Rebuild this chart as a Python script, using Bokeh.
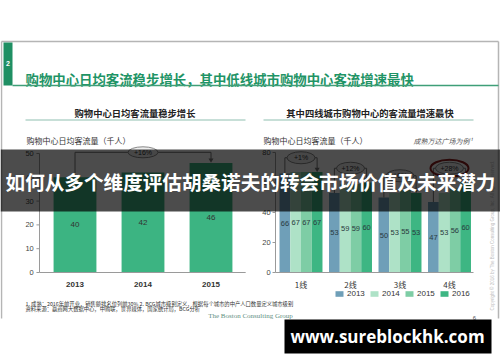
import math
from bokeh.plotting import figure
from bokeh.models import Range1d, ColumnDataSource, Legend, LegendItem
from bokeh.core.properties import value
from bokeh.embed import file_html
from bokeh.resources import INLINE

# ---------------- data ----------------
years = ["2013", "2014", "2015"]
traffic = [40, 42, 46]
left_ticks = [0, 10, 20, 30, 40, 50]
left_growth = "+16%"

tiers = ["1线", "2线", "3线", "4线"]
series_years = ["2013", "2014", "2015", "2016"]
v2013 = [66, 53, 50, 47]
v2014 = [67, 59, 53, 53]
v2015 = [67, 59, 55, 56]
v2016 = [67, 60, 53, 60]
tier_growth = ["+1%", "+12%", "+6%", "+28%"]
right_ticks = [0, 20, 40, 60, 80]

main_title = "购物中心日均客流稳步增长，其中低线城市购物中心客流增速最快"
left_title = "购物中心日均客流量稳步增长"
right_title = "其中四线城市购物中心的客流量增速最快"
y_label = "购物中心日均客流量（千人）"
right_note = "成熟万达广场为例¹"
foot1 = "1. 成熟：2016年前开业，销售额排名位列前30%  2. BCG城市级别定义，根据每个城市的中产人口数量定义城市级别"
foot2 = "资料来源：赢商网大数据中心，中购联，世界媒体，国家统计局，BCG分析"
overlay_text = "如何从多个维度评估胡桑诺夫的转会市场价值及未来潜力"
watermark = "www.sureblockhk.com"

# ---------------- style ----------------
CJK = value("Noto Sans CJK SC")
LAT = value("Liberation Sans")
GREEN = "#3cb482"
series_colors = ["#6f9fb8", "#aee2c7", "#7ecda5", "#3db683"]
AX = "#9a9a9a"
TXT = "#333333"

p = figure(width=500, height=362, x_range=Range1d(0, 500), y_range=Range1d(362, 0),
           output_backend="svg", toolbar_location=None, min_border=0,
           x_axis_location=None, y_axis_location=None, outline_line_color=None,
           background_fill_color="white", border_fill_color="white")
p.grid.visible = False

# slide frame & header
p.segment(x0=[1, 1, 498], y0=[41, 41, 41], x1=[498, 1, 498], y1=[41, 318, 318],
          line_color="#b5b5b5", line_width=1.5)
p.quad(left=[3], right=[12], top=[42], bottom=[85], fill_color="#1f8f63", line_color=None)
p.text(x=[7.5], y=[63], text=["2"], text_font=LAT, text_font_size="7px", text_font_style="bold",
       text_color="white", text_align="center", text_baseline="middle")
p.text(x=[25], y=[78], text=[main_title], text_font=CJK, text_font_size="13.4px",
       text_font_style="bold", text_color="#1f9466", text_baseline="middle")
p.segment(x0=[12], y0=[85], x1=[498], y1=[85], line_color="#3f9f78", line_width=1.5)

p.text(x=[134.5, 369.5], y=[112, 112], text=[left_title, right_title], text_font=CJK,
       text_font_size="9.3px", text_font_style="bold", text_color="#222222",
       text_align="center", text_baseline="middle")
p.segment(x0=[25, 263], y0=[119.5, 119.5], x1=[245, 473], y1=[119.5, 119.5],
          line_color="#8fbfb0", line_width=1)
p.text(x=[26, 263], y=[140, 140], text=[y_label, y_label], text_font=CJK, text_font_size="8px",
       text_color=TXT, text_baseline="middle")
p.text(x=[472], y=[140], text=[right_note], text_font=CJK, text_font_size="7px",
       text_font_style="italic", text_color="#555555", text_align="right", text_baseline="middle")

# ---------------- left chart ----------------
L = p.subplot(x_source=Range1d(0, len(years) - 1), y_source=Range1d(0, left_ticks[-1]),
              x_target=Range1d(74.5, 210.5), y_target=Range1d(272, 153))
lx = list(range(len(years)))
lsrc = ColumnDataSource(dict(x=lx, top=traffic, mid=[v / 2 for v in traffic],
                             lab=[str(v) for v in traffic], cat=years))
L.vbar(x="x", top="top", bottom=0, width=0.63, source=lsrc, fill_color=GREEN, line_color=None)
L.text(x="x", y="mid", text="lab", source=lsrc, text_font=LAT, text_font_size="8px",
       text_color=TXT, text_align="center", text_baseline="middle")
L.text(x="x", y=0, text="cat", source=lsrc, y_offset=12, text_font=LAT, text_font_size="8px",
       text_font_style="bold", text_color=TXT, text_align="center", text_baseline="middle")
lax = -0.522
L.segment(x0=[lax], y0=[0], x1=[lax], y1=[left_ticks[-1]], line_color=AX, line_width=1)
L.segment(x0=[lax], y0=[0], x1=[2.51], y1=[0], line_color=AX, line_width=1)
L.segment(x0=[lax] * len(left_ticks), y0=left_ticks, x1=[lax - 0.045] * len(left_ticks),
          y1=left_ticks, line_color=AX, line_width=1)
L.text(x=[lax - 0.085] * len(left_ticks), y=left_ticks, text=[str(t) for t in left_ticks],
       text_font=LAT, text_font_size="7.5px", text_color="#444444", text_align="right",
       text_baseline="middle")
ltop = max(traffic) + 4.5
L.line(x=[0, 0, lx[-1], lx[-1]], y=[traffic[0], ltop, ltop, traffic[-1] + 1.5],
       line_color="#777777", line_width=1)
L.scatter(x=[lx[-1]], y=[traffic[-1] + 1.3], marker="inverted_triangle", size=5,
          fill_color="#777777", line_color=None)
L.ellipse(x=[1], y=[ltop], width=30, height=11, width_units="screen", height_units="screen",
          fill_color="#eeeeee", line_color="#888888", line_width=1)
L.text(x=[1], y=[ltop], text=[left_growth], text_font=LAT, text_font_size="7px",
       text_color=TXT, text_align="center", text_baseline="middle")

# ---------------- right chart ----------------
R = p.subplot(x_source=Range1d(0, len(tiers) - 1), y_source=Range1d(0, right_ticks[-1]),
              x_target=Range1d(300.5, 449), y_target=Range1d(272, 152))
rx = list(range(len(tiers)))
bw = 0.217
series = [v2013, v2014, v2015, v2016]
bar_renderers = []
for k, (vals, col) in enumerate(zip(series, series_colors)):
    xs = [i + (k - 1.5) * bw for i in rx]
    src = ColumnDataSource(dict(x=xs, top=vals, mid=[v / 2 for v in vals],
                                lab=[str(v) for v in vals]))
    r = R.vbar(x="x", top="top", bottom=0, width=bw, source=src, fill_color=col, line_color=None)
    bar_renderers.append(r)
    R.text(x="x", y="mid", text="lab", source=src, text_font=LAT, text_font_size="7.5px",
           text_color="#2a3a40", text_align="center", text_baseline="middle")
R.text(x=rx, y=[0] * len(rx), text=tiers, y_offset=12, text_font=CJK, text_font_size="8px",
       text_color=TXT, text_align="center", text_baseline="middle")
rax = -0.515
R.segment(x0=[rax], y0=[0], x1=[rax], y1=[right_ticks[-1]], line_color=AX, line_width=1)
R.segment(x0=[rax], y0=[0], x1=[3.485], y1=[0], line_color=AX, line_width=1)
R.segment(x0=[rax] * len(right_ticks), y0=right_ticks, x1=[rax - 0.06] * len(right_ticks),
          y1=right_ticks, line_color=AX, line_width=1)
R.text(x=[rax - 0.1] * len(right_ticks), y=right_ticks, text=[str(t) for t in right_ticks],
       text_font=LAT, text_font_size="7.5px", text_color="#444444", text_align="right",
       text_baseline="middle")
for i in rx:
    gmax = max(s[i] for s in series)
    top = gmax + 9.5
    x0 = i - 1.5 * bw
    x3 = i + 1.5 * bw
    R.line(x=[x0, x0, x3, x3], y=[v2013[i], top, top, v2016[i] + 2], line_color="#777777",
           line_width=1)
    R.scatter(x=[x3], y=[v2016[i] + 1.8], marker="inverted_triangle", size=5,
              fill_color="#777777", line_color=None)
    R.ellipse(x=[i], y=[top], width=28, height=12, width_units="screen", height_units="screen",
              fill_color="#eeeeee", line_color="#888888", line_width=1)
    R.text(x=[i], y=[top], text=[tier_growth[i]], text_font=LAT, text_font_size="7px",
           text_color=TXT, text_align="center", text_baseline="middle")
# highlight on the strongest growth
R.ellipse(x=[rx[-1]], y=[max(s[-1] for s in series) + 9.5], width=38, height=17,
          width_units="screen", height_units="screen", fill_color=None,
          line_color="#8e1f1f", line_width=2)

legend = Legend(items=[LegendItem(label=y, renderers=[r]) for y, r in zip(series_years, bar_renderers)],
                orientation="horizontal", location=(334, 64), glyph_width=10, glyph_height=7,
                label_height=8, label_text_font_size="8px", label_text_font="Liberation Sans",
                label_standoff=3, spacing=2, padding=0, margin=0, border_line_color=None,
                background_fill_alpha=0, label_text_color=TXT)
p.add_layout(legend)

# ---------------- footer ----------------
p.text(x=[25, 25], y=[303, 308.5], text=[foot1, foot2], text_font=CJK, text_font_size="5.3px",
       text_color="#333333", text_baseline="middle")
p.text(x=[250], y=[315.5], text=["The Boston Consulting Group"], text_font=value("Liberation Serif"),
       text_font_size="7px", text_color="#5f8f7f", text_align="center", text_baseline="middle")
p.text(x=[474], y=[317], text=["6"], text_font=LAT, text_font_size="6px", text_color="#555555",
       text_align="center", text_baseline="middle")
p.text(x=[492], y=[235], text=["Copyright © 2016 by The Boston Consulting Group, Inc. All rights reserved."],
       angle=math.pi / 2, text_font=LAT, text_font_size="4.5px", text_color="#c0c0c0",
       text_align="center", text_baseline="middle")

# ---------------- overlay banner ----------------
p.quad(left=[0], right=[500], top=[149], bottom=[211], fill_color="black", fill_alpha=0.7,
       line_color=None)
p.text(x=[250], y=[181], text=[overlay_text], text_font=CJK, text_font_size="19.6px",
       text_font_style="bold", text_color="white", text_align="center", text_baseline="middle")

# ---------------- watermark ----------------
p.quad(left=[284], right=[491], top=[319], bottom=[353], fill_color="black", line_color=None)
p.text(x=[387], y=[336], text=[watermark], text_font=value("Open Sans"), text_font_size="17px",
       text_font_style="bold", text_color="white", text_align="center", text_baseline="middle")

open("out.html", "w").write(file_html(p, INLINE))
